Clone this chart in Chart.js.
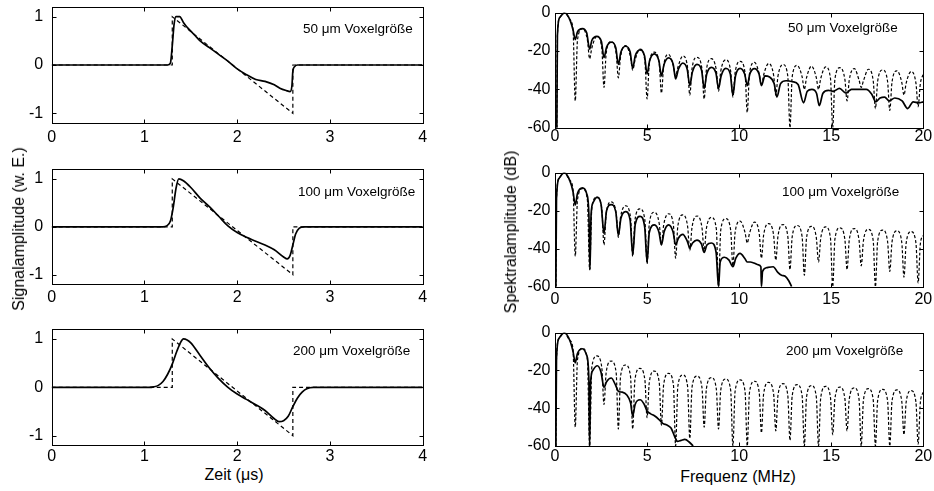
<!DOCTYPE html>
<html><head><meta charset="utf-8">
<script src="https://cdn.jsdelivr.net/npm/chart.js@4/dist/chart.umd.min.js"></script>
<style>
html,body{margin:0;padding:0;background:#fff;}
body{width:934px;height:491px;overflow:hidden;position:relative;font-family:"Liberation Sans",Arial,sans-serif;color:#000;}
canvas{position:absolute;}
.t{position:absolute;white-space:nowrap;line-height:16px;}
.ann{font-size:13.5px;}
.ax{font-size:16px;}
</style></head><body>
<script>
// ---------- tick values ----------
const timeTicks = [0, 1, 2, 3, 4];
const ampTicks = [-1, 0, 1];
const freqTicks = [0, 5, 10, 15, 20];
const dbTicks = [-60, -40, -20, 0];

// ---------- time domain (µs, normalised amplitude) ----------
const idealPulse = [[0,0],[1.3,0],[1.3,1],[2.6,-1],[2.6,0],[4,0]];
const pulse50 = [[0,0],[1.25,0],[1.28,0.04],[1.3,0.4],[1.32,0.85],[1.34,1.0],[1.38,1.0],[1.42,0.88],[1.46,0.78],[1.5,0.7],[1.55,0.6],[1.6,0.5],[1.7,0.36],[1.8,0.22],[1.9,0.08],[2.0,-0.08],[2.1,-0.2],[2.2,-0.3],[2.3,-0.34],[2.4,-0.41],[2.46,-0.48],[2.53,-0.53],[2.57,-0.55],[2.59,-0.43],[2.6,-0.13],[2.62,-0.03],[2.65,0],[4,0]];
const pulse100 = [[0,0],[1.2,0],[1.24,0.02],[1.28,0.12],[1.31,0.4],[1.34,0.8],[1.37,1.0],[1.42,0.96],[1.5,0.82],[1.6,0.6],[1.7,0.42],[1.8,0.22],[1.9,0.02],[2.0,-0.12],[2.1,-0.22],[2.2,-0.3],[2.3,-0.38],[2.4,-0.48],[2.5,-0.63],[2.54,-0.67],[2.57,-0.6],[2.6,-0.38],[2.63,-0.15],[2.67,-0.03],[2.72,0],[4,0]];
const pulse200 = [[0,0],[1.05,0],[1.1,0.01],[1.15,0.04],[1.2,0.12],[1.25,0.27],[1.3,0.48],[1.35,0.75],[1.39,0.93],[1.42,1.0],[1.46,0.98],[1.5,0.92],[1.6,0.66],[1.7,0.4],[1.8,0.18],[1.9,0.0],[2.0,-0.14],[2.1,-0.25],[2.2,-0.36],[2.3,-0.48],[2.4,-0.65],[2.45,-0.71],[2.5,-0.69],[2.55,-0.6],[2.6,-0.4],[2.65,-0.22],[2.7,-0.1],[2.75,-0.03],[2.82,0],[4,0]];

// ---------- spectra (MHz, dB) ----------
const specIdeal50 = [[0.1,-60],[0.13,-12],[0.26,-2.5],[0.52,0],[0.8,-3.5],[0.98,-9],
[1.1,-46],[1.22,-14.3],[1.49,-8.3],[1.76,-14.3],[1.88,-24],[2.0,-18.4],[2.27,-12.4],[2.54,-18.4],
[2.66,-39],[2.78,-21.1],[3.05,-15.1],[3.32,-21.1],[3.44,-34],[3.56,-23.1],[3.83,-17.1],[4.1,-23.1],
[4.22,-30],[4.34,-25],[4.61,-19],[4.88,-25],[5.0,-45],[5.12,-26.6],[5.39,-20.6],[5.66,-26.6],
[5.78,-42],[5.9,-27.8],[6.17,-21.8],[6.43,-27.8],[6.55,-33],[6.67,-28.6],[6.94,-22.6],[7.2,-28.6],
[7.32,-43],[7.44,-29.3],[7.71,-23.3],[7.98,-29.3],[8.1,-45],[8.22,-30],[8.49,-24],[8.76,-30],
[8.88,-41],[9.0,-30.6],[9.27,-24.6],[9.54,-30.6],[9.66,-44],[9.78,-31.4],[10.05,-25.4],[10.32,-31.4],
[10.44,-52],[10.56,-31.9],[10.83,-25.9],[11.09,-31.9],[11.21,-38],[11.33,-32.5],[11.6,-26.5],[11.87,-32.5],
[11.99,-43],[12.11,-33],[12.38,-27],[12.64,-33],[12.76,-60],[12.88,-33.5],[13.15,-27.5],[13.42,-33.5],
[13.54,-40],[13.66,-33.9],[13.93,-27.9],[14.19,-33.9],[14.31,-40],[14.43,-34.3],[14.7,-28.3],[14.96,-34.3],
[15.08,-60],[15.2,-34.7],[15.47,-28.7],[15.74,-34.7],[15.86,-46],[15.98,-35.1],[16.25,-29.1],[16.51,-35.1],
[16.63,-39],[16.75,-35.5],[17.02,-29.5],[17.28,-35.5],[17.4,-50],[17.52,-35.9],[17.79,-29.9],[18.06,-35.9],
[18.18,-51],[18.3,-36.3],[18.57,-30.3],[18.83,-36.3],[18.95,-43],[19.07,-36.7],[19.34,-30.7],[19.6,-36.7],
[19.72,-49],[19.84,-37],[20,-32]];
const spec50 = [[0.1,-60],[0.13,-12],[0.26,-2.5],[0.52,0],[0.8,-3.5],[0.98,-9],[1.1,-14],[1.22,-10],[1.49,-8.3],[1.72,-10.5],[1.88,-19],[2.0,-14.5],[2.27,-12.4],[2.52,-15],[2.66,-23.5],[2.8,-18],[3.05,-15.3],[3.3,-18.3],[3.44,-27],[3.58,-20.5],[3.83,-17.5],[4.08,-20.5],[4.22,-29],[4.36,-22.5],[4.61,-19.4],[4.86,-22.5],[5.0,-32],[5.14,-25],[5.39,-21.5],[5.64,-25],[5.78,-33],[5.92,-27],[6.17,-23.6],[6.42,-27],[6.55,-34.5],[6.7,-29.5],[6.94,-26.3],[7.18,-29.5],[7.32,-38],[7.46,-31],[7.71,-27],[7.96,-30],[8.1,-39.5],[8.24,-32],[8.49,-28.5],[8.74,-31.5],[8.88,-39.5],[9.02,-33],[9.27,-29],[9.52,-32],[9.66,-43],[9.8,-33],[10.05,-29],[10.3,-32],[10.44,-38],[10.58,-32],[10.83,-29.2],[11.08,-32],[11.21,-38],[11.4,-33],[11.65,-33.5],[11.9,-37],[12.05,-44],[12.25,-37],[12.55,-35.5],[12.9,-36],[13.2,-37.5],[13.5,-47],[13.7,-41],[13.95,-40],[14.2,-42],[14.35,-48.5],[14.55,-42],[14.85,-40.5],[15.1,-41],[15.45,-39.5],[15.8,-42],[16.1,-40],[16.5,-40],[16.9,-40],[17.2,-42.5],[17.42,-46.5],[17.65,-44.5],[17.9,-44],[18.15,-46],[18.45,-44.5],[18.85,-46],[19.15,-50],[19.45,-46.5],[19.75,-47],[20,-46.5]];

const specIdeal100 = [[0.05,-60],[0.08,-14],[0.22,-3],[0.5,0],[0.8,-4],[0.98,-9],
[1.1,-44],[1.22,-14.4],[1.49,-8.4],[1.76,-14.4],[1.88,-51],[2.0,-18.8],[2.27,-12.8],[2.54,-18.8],
[2.66,-38],[2.78,-21.4],[3.05,-15.4],[3.32,-21.4],[3.44,-34],[3.56,-23.4],[3.83,-17.4],[4.1,-23.4],
[4.22,-44],[4.34,-25],[4.61,-19],[4.88,-25],[5.0,-48],[5.12,-26.8],[5.39,-20.8],[5.66,-26.8],
[5.78,-38],[5.9,-27.6],[6.17,-21.6],[6.43,-27.6],[6.55,-45],[6.67,-28.2],[6.94,-22.2],[7.2,-28.2],
[7.32,-41],[7.44,-28.8],[7.71,-22.8],[7.98,-28.8],[8.1,-41],[8.22,-29.5],[8.49,-23.5],[8.76,-29.5],
[8.88,-60],[9.0,-30.2],[9.27,-24.2],[9.54,-30.2],[9.66,-49],[9.78,-31.5],[10.05,-25.5],[10.32,-31.5],
[10.44,-37],[10.56,-32],[10.83,-26],[11.09,-32],[11.21,-45],[11.33,-32.8],[11.6,-26.8],[11.87,-32.8],
[11.99,-46],[12.11,-33.3],[12.38,-27.3],[12.64,-33.3],[12.76,-51],[12.88,-33.8],[13.15,-27.8],[13.42,-33.8],
[13.54,-54],[13.66,-34.2],[13.93,-28.2],[14.19,-34.2],[14.31,-47],[14.43,-34.5],[14.7,-28.5],[14.96,-34.5],
[15.08,-60],[15.2,-35],[15.47,-29],[15.74,-35],[15.86,-51],[15.98,-35.4],[16.25,-29.4],[16.51,-35.4],
[16.63,-49],[16.75,-35.8],[17.02,-29.8],[17.28,-35.8],[17.4,-60],[17.52,-36.2],[17.79,-30.2],[18.06,-36.2],
[18.18,-52],[18.3,-36.6],[18.57,-30.6],[18.83,-36.6],[18.95,-55],[19.07,-37],[19.34,-31],[19.6,-37],
[19.72,-58],[19.84,-37.4],[20,-33]];
const spec100 = [[0.05,-60],[0.08,-14],[0.22,-3],[0.5,0],[0.8,-4],[0.98,-10],[1.1,-17],[1.22,-11],[1.49,-8],[1.72,-11],[1.84,-22],[1.9,-51],[1.96,-22],[2.08,-15.5],[2.28,-13],[2.5,-16.5],[2.66,-32],[2.8,-20],[3.05,-16.8],[3.3,-20.5],[3.44,-33],[3.58,-24],[3.83,-20.5],[4.08,-25],[4.22,-43],[4.36,-27],[4.62,-23],[4.87,-28.5],[5.0,-47],[5.12,-31.5],[5.4,-27.5],[5.65,-31.5],[5.78,-38],[5.93,-31],[6.17,-27.5],[6.42,-31.5],[6.55,-38],[6.7,-34.5],[6.94,-32.5],[7.18,-36],[7.32,-39.5],[7.47,-37],[7.71,-35.5],[7.95,-37.5],[8.1,-42],[8.25,-38],[8.49,-37],[8.75,-42],[8.88,-60],[8.97,-47],[9.2,-44.5],[9.45,-46],[9.66,-49.5],[9.82,-45],[10.05,-42.5],[10.3,-45],[10.44,-47],[10.6,-47],[10.8,-47.5],[11.05,-48.5],[11.18,-49.5],[11.21,-60],[11.27,-52],[11.5,-50],[11.85,-49.5],[12.1,-52.5],[12.3,-54],[12.5,-54.5],[12.7,-57],[12.85,-60]];

const specIdeal200 = [[0.05,-60],[0.08,-14],[0.22,-3],[0.5,0],[0.8,-4],[0.98,-9],
[1.1,-50],[1.22,-14.3],[1.49,-8.3],[1.76,-14.3],[1.88,-60],[2.0,-18.3],[2.27,-12.3],[2.54,-18.3],
[2.66,-38],[2.78,-21],[3.05,-15],[3.32,-21],[3.44,-51],[3.56,-23.1],[3.83,-17.1],[4.1,-23.1],
[4.22,-51],[4.34,-24.9],[4.61,-18.9],[4.88,-24.9],[5.0,-45],[5.12,-26.3],[5.39,-20.3],[5.66,-26.3],
[5.78,-49],[5.9,-27.5],[6.17,-21.5],[6.43,-27.5],[6.55,-60],[6.67,-28.4],[6.94,-22.4],[7.2,-28.4],
[7.32,-56],[7.44,-29],[7.71,-23],[7.98,-29],[8.1,-50],[8.22,-29.8],[8.49,-23.8],[8.76,-29.8],
[8.88,-51],[9.0,-30.5],[9.27,-24.5],[9.54,-30.5],[9.66,-60],[9.78,-31],[10.05,-25],[10.32,-31],
[10.44,-60],[10.56,-31.7],[10.83,-25.7],[11.09,-31.7],[11.21,-53],[11.33,-32.3],[11.6,-26.3],[11.87,-32.3],
[11.99,-52],[12.11,-33],[12.38,-27],[12.64,-33],[12.76,-57],[12.88,-33.5],[13.15,-27.5],[13.42,-33.5],
[13.54,-60],[13.66,-34],[13.93,-28],[14.19,-34],[14.31,-60],[14.43,-34.4],[14.7,-28.4],[14.96,-34.4],
[15.08,-54],[15.2,-34.8],[15.47,-28.8],[15.74,-34.8],[15.86,-52],[15.98,-35.2],[16.25,-29.2],[16.51,-35.2],
[16.63,-60],[16.75,-35.6],[17.02,-29.6],[17.28,-35.6],[17.4,-60],[17.52,-36],[17.79,-30],[18.06,-36],
[18.18,-60],[18.3,-36.3],[18.57,-30.3],[18.83,-36.3],[18.95,-54],[19.07,-36.7],[19.34,-30.7],[19.6,-36.7],
[19.72,-59],[19.84,-37],[20,-31.5]];
const spec200 = [[0.05,-60],[0.08,-14],[0.22,-3],[0.5,0],[0.8,-4],[0.98,-10],[1.1,-16],[1.22,-11],[1.49,-8.5],[1.72,-12],[1.84,-25],[1.88,-60],[1.93,-27],[2.05,-20],[2.3,-17.5],[2.5,-21],[2.66,-29],[2.8,-26],[3.05,-24],[3.3,-28],[3.44,-31],[3.65,-31.5],[3.9,-33],[4.1,-37],[4.22,-44],[4.35,-38],[4.62,-35.5],[4.85,-38],[5.0,-41.5],[5.2,-43],[5.4,-44],[5.65,-46],[5.85,-48],[6.1,-49],[6.3,-50.5],[6.5,-55],[6.65,-57.5],[6.85,-57],[7.05,-56.5],[7.3,-58],[7.5,-60]];

const voxelLabels = ['50 μm Voxelgröße', '100 μm Voxelgröße', '200 μm Voxelgröße'];

// ---------- drawing ----------
Chart.defaults.font.family = '"Liberation Sans", Arial, sans-serif';
Chart.defaults.color = '#000';

const boxTicks = {
  id: 'boxTicks',
  afterDatasetsDraw(chart) {
    const {ctx, chartArea: a, scales: {x, y}} = chart;
    const l = Math.round(a.left) + 0.5, r = Math.round(a.right) + 0.5;
    const t = Math.round(a.top) + 0.5, b = Math.round(a.bottom) + 0.5;
    const tl = 4;
    ctx.save();
    ctx.strokeStyle = '#000';
    ctx.lineWidth = 1;
    ctx.setLineDash([]);
    ctx.beginPath();
    x.ticks.forEach(tk => {
      const px = Math.round(x.getPixelForValue(tk.value)) + 0.5;
      ctx.moveTo(px, b); ctx.lineTo(px, b - tl);
      ctx.moveTo(px, t); ctx.lineTo(px, t + tl);
    });
    y.ticks.forEach(tk => {
      const py = Math.round(y.getPixelForValue(tk.value)) + 0.5;
      ctx.moveTo(l, py); ctx.lineTo(l + tl, py);
      ctx.moveTo(r, py); ctx.lineTo(r - tl, py);
    });
    ctx.stroke();
    ctx.strokeRect(l, t, r - l, b - t);
    ctx.restore();
  }
};

function panel(p) {
  const c = document.createElement('canvas');
  c.width = p.cw; c.height = p.ch;
  c.style.left = p.cx + 'px'; c.style.top = p.cy + 'px';
  c.style.width = p.cw + 'px'; c.style.height = p.ch + 'px';
  document.body.appendChild(c);
  const yW = p.L - p.cx;
  const padTop = p.T - p.cy;
  const padRight = p.cx + p.cw - p.R;
  const xH = p.cy + p.ch - p.B;
  const tickFont = {size: 16, lineHeight: 1};
  new Chart(c, {
    type: 'line',
    data: {datasets: [
      {data: p.dashed, borderColor: '#000', borderWidth: p.dw, borderDash: p.dash, pointRadius: 0,
       fill: false, tension: p.dashTension ? 0.4 : 0, cubicInterpolationMode: p.dashTension ? 'monotone' : 'default'},
      {data: p.solid, borderColor: '#000', borderWidth: p.sw, pointRadius: 0, fill: false,
       tension: 0.4, cubicInterpolationMode: 'monotone'}
    ]},
    options: {
      responsive: false, animation: false, events: [], devicePixelRatio: 1,
      layout: {padding: {left: 0, top: padTop, right: padRight, bottom: 0}},
      plugins: {legend: {display: false}, tooltip: {enabled: false}, title: {display: false}},
      scales: {
        x: {type: 'linear', min: p.xMin, max: p.xMax,
            grid: {display: false, drawTicks: false}, border: {display: false},
            ticks: {font: tickFont, color: '#000', padding: p.xPad, maxRotation: 0, autoSkip: false},
            afterBuildTicks: s => { s.ticks = p.xTicks.map(v => ({value: v})); },
            afterFit: s => { s.height = xH; s.paddingLeft = 0; s.paddingRight = 0; }},
        y: {type: 'linear', min: p.yMin, max: p.yMax,
            grid: {display: false, drawTicks: false}, border: {display: false},
            ticks: {font: tickFont, color: '#000', padding: p.yPad, autoSkip: false},
            afterBuildTicks: s => { s.ticks = p.yTicks.map(v => ({value: v})); },
            afterFit: s => { s.width = yW; s.paddingTop = 0; s.paddingBottom = 0; }}
      }
    },
    plugins: [boxTicks]
  });
}

const leftCol = {cx: 0, cw: 445, L: 51.7, R: 422.7, xMin: 0, xMax: 4, yMin: -1.2, yMax: 1.2,
  xTicks: timeTicks, yTicks: ampTicks, yPad: 8.5, dash: [4, 3], dw: 1.2, sw: 1.7, dashTension: false};
const rightCol = {cx: 470, cw: 464, L: 555, R: 923.3, xMin: 0, xMax: 20, yMin: -60, yMax: 0,
  xTicks: freqTicks, yTicks: dbTicks, yPad: 4.5, dash: [3, 2], dw: 1.2, sw: 1.7, dashTension: true};

panel({...leftCol, cy: 0, ch: 150, T: 7, B: 123, xPad: 6.3, dashed: idealPulse, solid: pulse50});
panel({...leftCol, cy: 155, ch: 152, T: 169.3, B: 284.3, xPad: 5.2, dashed: idealPulse, solid: pulse100});
panel({...leftCol, cy: 315, ch: 150, T: 329.3, B: 445.3, xPad: 3, dashed: idealPulse, solid: pulse200});
panel({...rightCol, cy: 0, ch: 150, T: 12.7, B: 127.7, xPad: 1, dashed: specIdeal50, solid: spec50});
panel({...rightCol, cy: 155, ch: 152, T: 172.7, B: 286.7, xPad: 5.3, dashed: specIdeal100, solid: spec100});
panel({...rightCol, cy: 315, ch: 150, T: 332.7, B: 446, xPad: 3, dashed: specIdeal200, solid: spec200});

// ---------- texts ----------
function txt(s, cls, x, y, rot) {
  const d = document.createElement('div');
  d.className = 't ' + cls;
  d.textContent = s;
  d.style.left = x + 'px';
  d.style.top = y + 'px';
  d.style.transform = rot ? 'translate(-50%,-50%) rotate(-90deg)' : 'translate(0,-50%)';
  document.body.appendChild(d);
  return d;
}
function ctxt(s, cls, x, y) {
  const d = txt(s, cls, x, y, false);
  d.style.transform = 'translate(-50%,-50%)';
}
txt(voxelLabels[0], 'ann', 303, 29);
txt(voxelLabels[1], 'ann', 298, 191.5);
txt(voxelLabels[2], 'ann', 293, 351);
txt(voxelLabels[0], 'ann', 788, 28);
txt(voxelLabels[1], 'ann', 782, 191.5);
txt(voxelLabels[2], 'ann', 786, 351);
txt('Signalamplitude (w. E.)', 'ax', 18.5, 229, true);
txt('Spektralamplitude (dB)', 'ax', 511, 232, true);
ctxt('Zeit (μs)', 'ax', 234, 475);
ctxt('Frequenz (MHz)', 'ax', 738, 477);
</script>
</body></html>
